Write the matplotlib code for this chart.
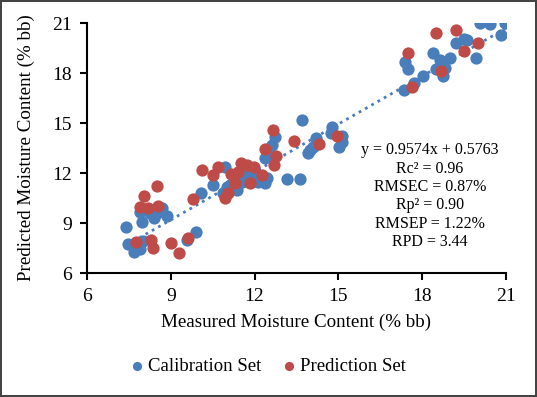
import matplotlib.pyplot as plt
import numpy as np

plt.rcParams['font.family'] = ['Liberation Serif', 'DejaVu Serif']

# calibration set (measured, predicted)
cal_x = [7.40, 7.47, 7.68, 7.90, 8.00, 7.90, 7.97, 8.26, 8.40, 8.51, 8.69, 8.86, 9.58, 9.90,
         10.08, 10.51, 10.94, 11.01, 11.12, 10.87, 11.37, 11.55, 11.66, 11.80, 12.05, 12.12,
         12.37, 12.44, 12.37, 12.62, 12.73, 12.62, 13.16, 13.63, 13.70, 13.91, 14.09, 14.20,
         13.98, 14.77, 14.74, 15.13, 15.13, 15.02, 11.70,
         17.35, 17.71, 18.03, 17.39, 17.49, 18.39, 18.64, 19.00, 18.50, 18.82, 18.75, 19.21,
         19.50, 19.61, 19.93, 20.07, 20.43, 20.97, 20.82]
cal_y = [8.76, 7.74, 7.26, 7.44, 7.92, 9.66, 9.06, 9.60, 9.30, 9.60, 9.90, 9.42, 7.98, 8.46,
         10.80, 11.28, 12.36, 11.16, 11.28, 10.80, 10.98, 11.46, 11.58, 12.00, 11.88, 11.46,
         11.40, 11.70, 12.90, 13.68, 14.16, 13.02, 11.64, 11.64, 15.18, 13.20, 13.56, 14.10,
         13.38, 14.76, 14.40, 14.22, 13.86, 13.56, 11.80,
         16.98, 17.40, 17.82, 18.66, 18.24, 19.20, 18.78, 18.90, 18.24, 18.30, 17.82, 19.80,
         20.04, 19.98, 18.90, 21.00, 20.94, 21.00, 20.28]

# prediction set (measured, predicted)
pred_x = [7.75, 8.04, 7.90, 8.18, 8.51, 8.54, 8.29, 8.36, 9.01, 9.29, 9.62, 9.80,
          10.12, 10.51, 10.69, 11.16, 11.41, 11.51, 11.73, 11.98, 12.27, 11.84, 11.30, 11.05,
          10.94, 12.66, 12.37, 12.77, 12.70, 13.41, 14.31, 14.95,
          18.50, 19.21, 17.49, 20.00, 19.50, 18.67, 17.64]
pred_y = [7.86, 10.62, 9.96, 9.90, 11.22, 10.02, 7.98, 7.50, 7.80, 7.20, 8.10, 10.44,
          12.18, 11.88, 12.36, 11.94, 12.06, 12.60, 12.48, 12.36, 11.88, 11.40, 11.40, 10.80,
          10.50, 14.58, 13.44, 13.02, 12.48, 13.92, 13.74, 14.22,
          20.40, 20.58, 19.20, 19.80, 19.32, 18.12, 17.16]

slope = 0.9574
intercept = 0.5763
ticks = [6, 9, 12, 15, 18, 21]
stats = ['y = 0.9574x + 0.5763', 'Rc² = 0.96', 'RMSEC = 0.87%',
         'Rp² = 0.90', 'RMSEP = 1.22%', 'RPD = 3.44']

blue = '#4A7EBB'
red = '#BE4B48'

fig = plt.figure(figsize=(5.37, 3.97), dpi=100, linewidth=1.5, edgecolor='#444444')
ax = fig.add_axes([0.162, 0.312, 0.780, 0.630])

ax.scatter(cal_x, cal_y, s=78, color=blue, label='Calibration Set', zorder=3, linewidths=0)
ax.scatter(pred_x, pred_y, s=78, color=red, label='Prediction Set', zorder=4, linewidths=0)

# trend line
lx = np.array([min(cal_x) + 0.25, max(cal_x)])
ax.plot(lx, slope * lx + intercept, color=blue, linestyle=(0, (1, 1.6)), linewidth=2, zorder=2)

ax.set_xlim(6, 21)
ax.set_ylim(6, 21)
ax.set_xticks(ticks)
ax.set_yticks(ticks)
ax.tick_params(labelsize=14, length=5, width=1.5, direction='out', colors='#000000', pad=6)
for s in ['top', 'right']:
    ax.spines[s].set_visible(False)
for s in ['left', 'bottom']:
    ax.spines[s].set_linewidth(1.5)

ax.set_xlabel('Measured Moisture Content (% bb)', fontsize=13.7, labelpad=6)
ax.set_ylabel('Predicted Moisture Content (% bb)', fontsize=13.7, labelpad=12)

ax.text(18.28, 13.85, '\n'.join(stats), fontsize=11.5, ha='center', va='top', linespacing=1.2)

leg = fig.legend(loc='center', bbox_to_anchor=(0.495, 0.078), ncol=2, frameon=False,
                 fontsize=13.5, handletextpad=0.0, columnspacing=0.9, markerscale=0.75,
                 handlelength=1.2)

fig.savefig('out.png', dpi=100)
